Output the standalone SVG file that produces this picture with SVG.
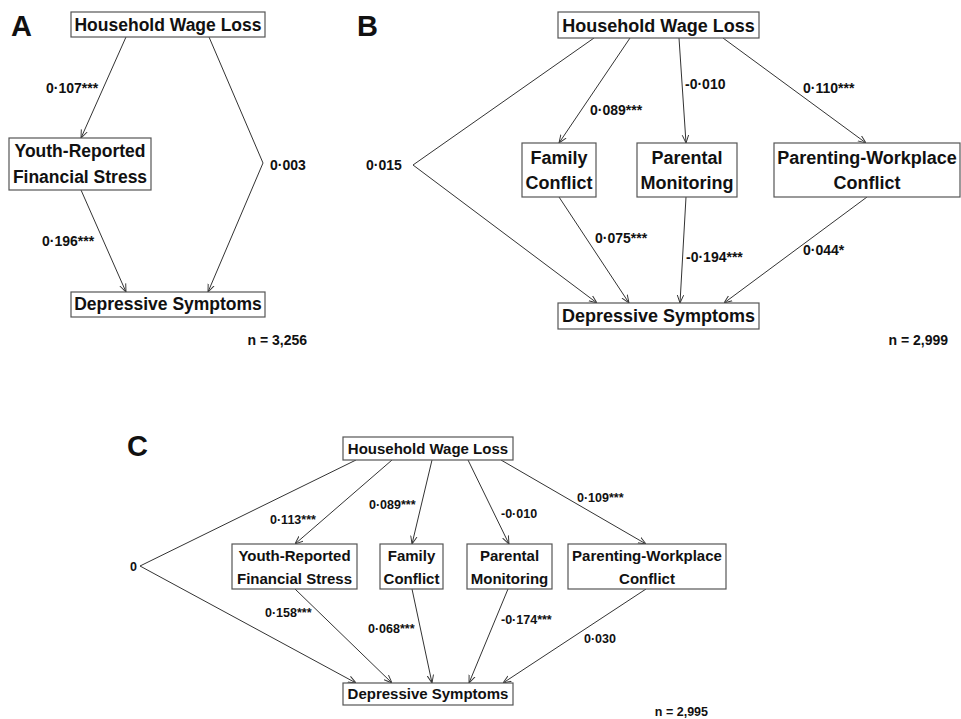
<svg xmlns="http://www.w3.org/2000/svg" width="961" height="719" viewBox="0 0 961 719">
<style>
  text { font-family: "Liberation Sans", Arial, sans-serif; font-weight: bold; fill: #111; }
  .box { fill: #fff; stroke: #555; stroke-width: 1.2; }
  .edge { fill: none; stroke: #333; stroke-width: 1; marker-end: url(#arr); }
  .panel { font-size: 29px; }
  .na { font-size: 17.5px; text-anchor: middle; }
  .nb { font-size: 18px; text-anchor: middle; }
  .nc { font-size: 15px; text-anchor: middle; }
  .lab { font-size: 14px; }
  .labc { font-size: 12.5px; }
</style>
<defs>
  <marker id="arr" viewBox="0 0 10 10" refX="10" refY="5" markerWidth="8" markerHeight="8" markerUnits="userSpaceOnUse" orient="auto">
    <path d="M0,1 L10,5 L0,9" fill="none" stroke="#333" stroke-width="1.2"/>
  </marker>
</defs>
<rect width="961" height="719" fill="#fff"/>

<!-- Panel letters -->
<text class="panel" x="11" y="36">A</text>
<text class="panel" x="357" y="36">B</text>
<text class="panel" x="127" y="456">C</text>

<!-- ===== Panel A ===== -->
<g id="edges-a">
  <line class="edge" x1="126" y1="37" x2="81" y2="138"/>
  <polyline class="edge" points="209,37 263,163 208,292"/>
  <line class="edge" x1="81" y1="190" x2="126" y2="292"/>
  <text class="lab" x="46" y="93">0·107***</text>
  <text class="lab" x="270" y="170">0·003</text>
  <text class="lab" x="42" y="246">0·196***</text>
</g>
<g id="a-hwl">
  <rect class="box" x="71" y="12" width="194" height="25"/>
  <text class="na" x="168" y="31">Household Wage Loss</text>
</g>
<g id="a-yrfs">
  <rect class="box" x="9" y="138" width="142" height="52"/>
  <text class="na" x="80" y="157">Youth-Reported</text>
  <text class="na" x="80" y="183">Financial Stress</text>
</g>
<g id="a-ds">
  <rect class="box" x="71" y="292" width="194" height="25"/>
  <text class="na" x="168" y="310">Depressive Symptoms</text>
</g>
<text class="lab" x="307" y="345" text-anchor="end">n = 3,256</text>

<!-- ===== Panel B ===== -->
<g id="edges-b">
  <polyline class="edge" points="594,38 413,165 597,303"/>
  <line class="edge" x1="630" y1="38" x2="559" y2="143"/>
  <line class="edge" x1="679" y1="38" x2="686" y2="143"/>
  <line class="edge" x1="723" y1="38" x2="866" y2="143"/>
  <line class="edge" x1="559" y1="197" x2="629" y2="303"/>
  <line class="edge" x1="686" y1="197" x2="680" y2="303"/>
  <line class="edge" x1="867" y1="197" x2="724" y2="303"/>
  <text class="lab" x="366" y="170">0·015</text>
  <text class="lab" x="590" y="115">0·089***</text>
  <text class="lab" x="685" y="89">-0·010</text>
  <text class="lab" x="803" y="93">0·110***</text>
  <text class="lab" x="595" y="243">0·075***</text>
  <text class="lab" x="686" y="262">-0·194***</text>
  <text class="lab" x="803" y="255">0·044*</text>
</g>
<g id="b-hwl">
  <rect class="box" x="558" y="12" width="201" height="26"/>
  <text class="nb" x="658.5" y="32">Household Wage Loss</text>
</g>
<g id="b-fc">
  <rect class="box" x="522" y="143" width="74" height="54"/>
  <text class="nb" x="559" y="164">Family</text>
  <text class="nb" x="559" y="189">Conflict</text>
</g>
<g id="b-pm">
  <rect class="box" x="637" y="143" width="100" height="54"/>
  <text class="nb" x="687" y="164">Parental</text>
  <text class="nb" x="687" y="189">Monitoring</text>
</g>
<g id="b-pwc">
  <rect class="box" x="774" y="143" width="186" height="54"/>
  <text class="nb" x="867" y="164">Parenting-Workplace</text>
  <text class="nb" x="867" y="189">Conflict</text>
</g>
<g id="b-ds">
  <rect class="box" x="558" y="303" width="201" height="26"/>
  <text class="nb" x="658.5" y="322">Depressive Symptoms</text>
</g>
<text class="lab" x="948" y="345" text-anchor="end">n = 2,999</text>

<!-- ===== Panel C ===== -->
<g id="edges-c">
  <polyline class="edge" points="356,460 140,566 356,683"/>
  <line class="edge" x1="392" y1="460" x2="295" y2="544"/>
  <line class="edge" x1="432" y1="460" x2="412" y2="544"/>
  <line class="edge" x1="468" y1="460" x2="509" y2="544"/>
  <line class="edge" x1="501" y1="460" x2="646" y2="544"/>
  <line class="edge" x1="295" y1="589" x2="392" y2="683"/>
  <line class="edge" x1="412" y1="589" x2="432" y2="683"/>
  <line class="edge" x1="508" y1="589" x2="469" y2="683"/>
  <line class="edge" x1="646" y1="589" x2="503" y2="683"/>
  <text class="labc" x="130" y="571">0</text>
  <text class="labc" x="270" y="524">0·113***</text>
  <text class="labc" x="369" y="509">0·089***</text>
  <text class="labc" x="501" y="518">-0·010</text>
  <text class="labc" x="577" y="502">0·109***</text>
  <text class="labc" x="265" y="617">0·158***</text>
  <text class="labc" x="368" y="633">0·068***</text>
  <text class="labc" x="501" y="624">-0·174***</text>
  <text class="labc" x="584" y="643">0·030</text>
</g>
<g id="c-hwl">
  <rect class="box" x="343" y="437" width="170" height="23"/>
  <text class="nc" x="428" y="454">Household Wage Loss</text>
</g>
<g id="c-yrfs">
  <rect class="box" x="232" y="544" width="125" height="45"/>
  <text class="nc" x="294.5" y="561">Youth-Reported</text>
  <text class="nc" x="294.5" y="584">Financial Stress</text>
</g>
<g id="c-fc">
  <rect class="box" x="380" y="544" width="63" height="45"/>
  <text class="nc" x="411.5" y="561">Family</text>
  <text class="nc" x="411.5" y="584">Conflict</text>
</g>
<g id="c-pm">
  <rect class="box" x="467" y="544" width="85" height="45"/>
  <text class="nc" x="509.5" y="561">Parental</text>
  <text class="nc" x="509.5" y="584">Monitoring</text>
</g>
<g id="c-pwc">
  <rect class="box" x="568" y="544" width="158" height="45"/>
  <text class="nc" x="647" y="561">Parenting-Workplace</text>
  <text class="nc" x="647" y="584">Conflict</text>
</g>
<g id="c-ds">
  <rect class="box" x="343" y="683" width="170" height="22"/>
  <text class="nc" x="428" y="699">Depressive Symptoms</text>
</g>
<text class="labc" x="708" y="716" text-anchor="end">n = 2,995</text>
</svg>
